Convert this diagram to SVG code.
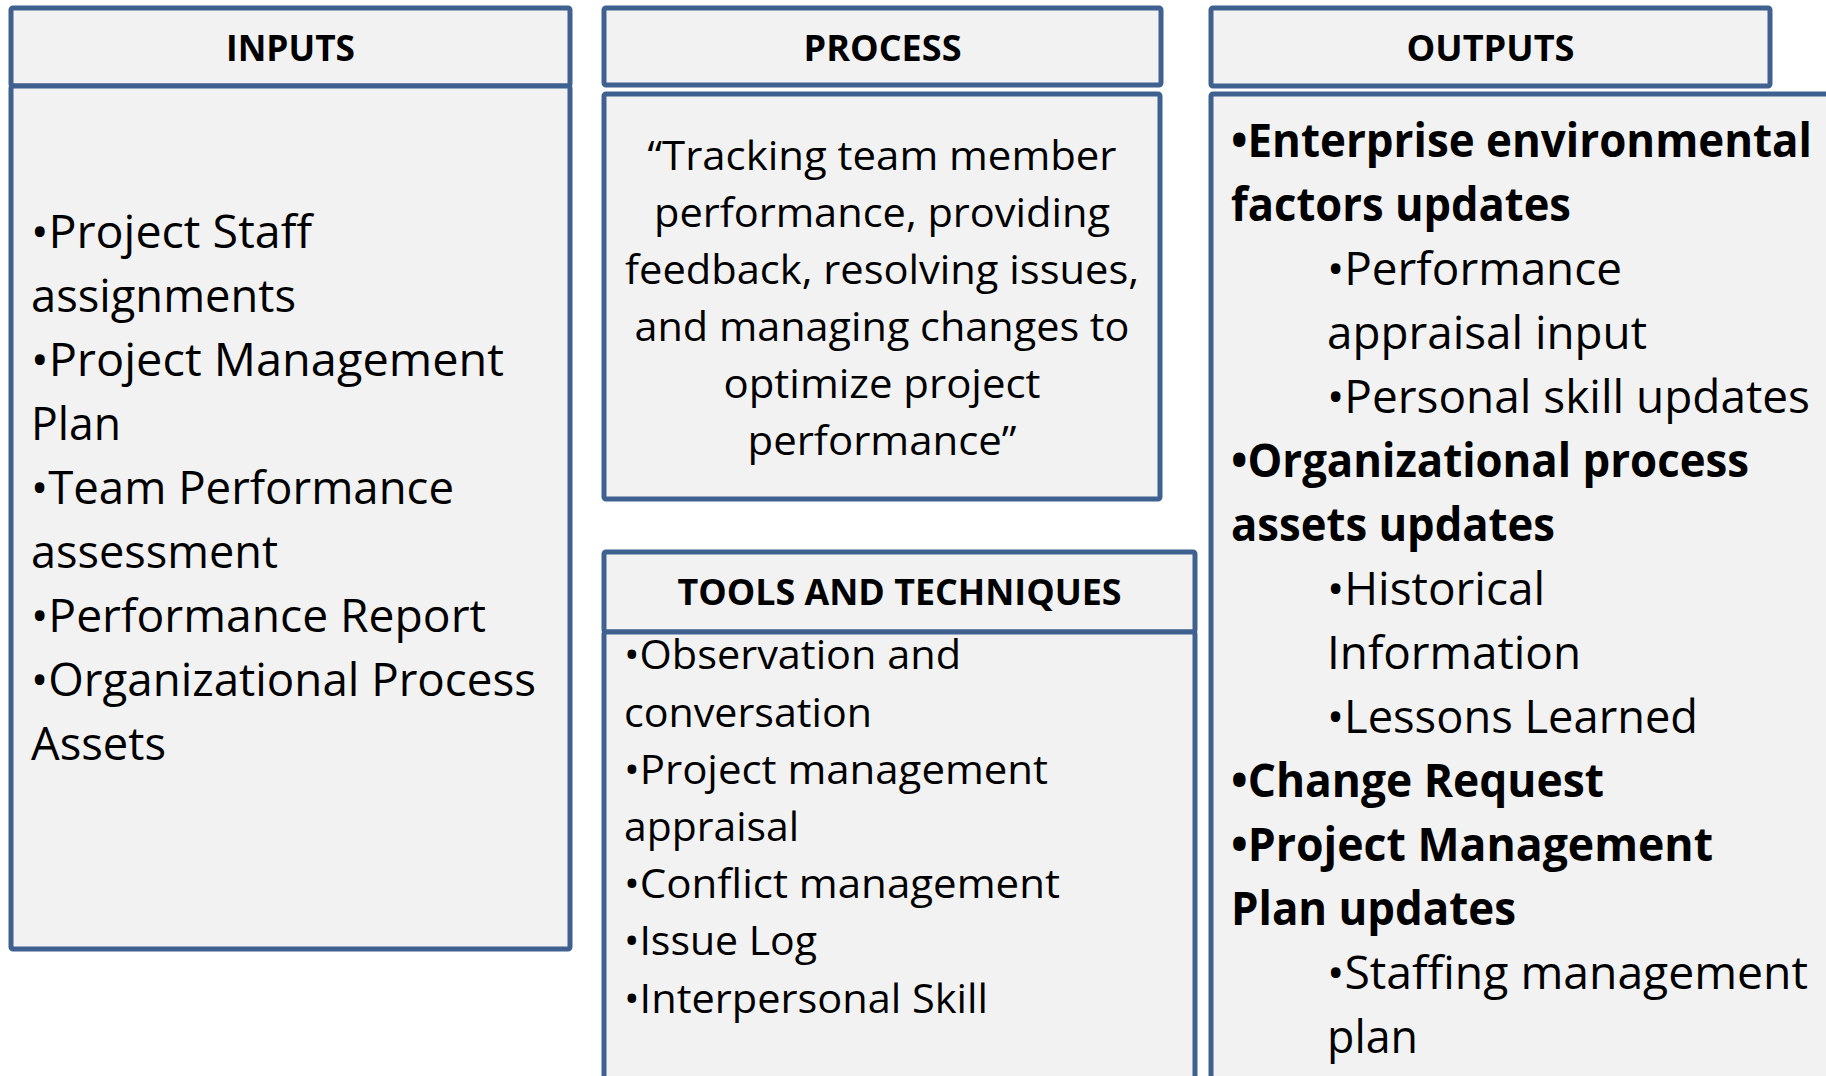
<svg xmlns="http://www.w3.org/2000/svg" width="1826" height="1076" viewBox="0 0 1826 1076">
<style>
.box{fill:#F2F2F2;stroke:#3E6190;stroke-width:5}
.hd{font-family:"Open Sans","Liberation Sans",sans-serif;font-weight:bold;font-size:36px;fill:#000;text-anchor:middle}
.big{font-family:"Open Sans","Liberation Sans",sans-serif;font-size:46px;fill:#000}
.bigb{font-family:"Open Sans","Liberation Sans",sans-serif;font-size:46px;font-weight:bold;fill:#000}
.mid{font-family:"Open Sans","Liberation Sans",sans-serif;font-size:41px;fill:#000}
.ctr{text-anchor:middle}
</style>
<rect width="1826" height="1076" fill="#FFFFFF"/>
<g id="inputs">
<rect class="box" x="11" y="8" width="559" height="78" rx="2"/>
<rect class="box" x="11" y="86" width="559" height="863" rx="2"/>
<text class="hd" x="290.5" y="61" textLength="129" lengthAdjust="spacingAndGlyphs">INPUTS</text>
<text class="big" x="31" y="248" textLength="281" lengthAdjust="spacingAndGlyphs">•Project Staff</text>
<text class="big" x="31" y="312" textLength="265" lengthAdjust="spacingAndGlyphs">assignments</text>
<text class="big" x="31" y="376" textLength="473" lengthAdjust="spacingAndGlyphs">•Project Management</text>
<text class="big" x="31" y="440" textLength="90" lengthAdjust="spacingAndGlyphs">Plan</text>
<text class="big" x="31" y="504" textLength="423" lengthAdjust="spacingAndGlyphs">•Team Performance</text>
<text class="big" x="31" y="568" textLength="247" lengthAdjust="spacingAndGlyphs">assessment</text>
<text class="big" x="31" y="632" textLength="455" lengthAdjust="spacingAndGlyphs">•Performance Report</text>
<text class="big" x="31" y="696" textLength="505" lengthAdjust="spacingAndGlyphs">•Organizational Process</text>
<text class="big" x="31" y="760" textLength="135" lengthAdjust="spacingAndGlyphs">Assets</text>
</g>
<g id="process">
<rect class="box" x="604" y="8" width="557" height="77" rx="2"/>
<rect class="box" x="604" y="94" width="556" height="405" rx="2"/>
<text class="hd" x="882.5" y="61" textLength="158" lengthAdjust="spacingAndGlyphs">PROCESS</text>
<text class="mid ctr" x="882" y="170" textLength="469" lengthAdjust="spacingAndGlyphs">“Tracking team member</text>
<text class="mid ctr" x="882" y="227" textLength="456" lengthAdjust="spacingAndGlyphs">performance, providing</text>
<text class="mid ctr" x="882" y="284" textLength="514" lengthAdjust="spacingAndGlyphs">feedback, resolving issues,</text>
<text class="mid ctr" x="882" y="341" textLength="495" lengthAdjust="spacingAndGlyphs">and managing changes to</text>
<text class="mid ctr" x="882" y="398" textLength="317" lengthAdjust="spacingAndGlyphs">optimize project</text>
<text class="mid ctr" x="882" y="455" textLength="269" lengthAdjust="spacingAndGlyphs">performance”</text>
</g>
<g id="tools">
<rect class="box" x="604" y="552" width="591" height="80" rx="2"/>
<rect class="box" x="604" y="632" width="591" height="600" rx="2"/>
<text class="hd" x="899.5" y="605" textLength="444" lengthAdjust="spacingAndGlyphs">TOOLS AND TECHNIQUES</text>
<text class="mid" x="624" y="669" textLength="337" lengthAdjust="spacingAndGlyphs">•Observation and</text>
<text class="mid" x="624" y="727" textLength="248" lengthAdjust="spacingAndGlyphs">conversation</text>
<text class="mid" x="624" y="784" textLength="424" lengthAdjust="spacingAndGlyphs">•Project management</text>
<text class="mid" x="624" y="841" textLength="175" lengthAdjust="spacingAndGlyphs">appraisal</text>
<text class="mid" x="624" y="898" textLength="436" lengthAdjust="spacingAndGlyphs">•Conflict management</text>
<text class="mid" x="624" y="955" textLength="193" lengthAdjust="spacingAndGlyphs">•Issue Log</text>
<text class="mid" x="624" y="1013" textLength="364" lengthAdjust="spacingAndGlyphs">•Interpersonal Skill</text>
</g>
<g id="outputs">
<rect class="box" x="1211" y="8" width="559" height="78" rx="2"/>
<rect class="box" x="1211" y="94" width="700" height="1100" rx="2"/>
<text class="hd" x="1490.5" y="61" textLength="168" lengthAdjust="spacingAndGlyphs">OUTPUTS</text>
<text class="bigb" x="1231" y="157" textLength="581" lengthAdjust="spacingAndGlyphs">•Enterprise environmental</text>
<text class="bigb" x="1231" y="221" textLength="340" lengthAdjust="spacingAndGlyphs">factors updates</text>
<text class="big" x="1327" y="285" textLength="295" lengthAdjust="spacingAndGlyphs">•Performance</text>
<text class="big" x="1327" y="349" textLength="320" lengthAdjust="spacingAndGlyphs">appraisal input</text>
<text class="big" x="1327" y="413" textLength="483" lengthAdjust="spacingAndGlyphs">•Personal skill updates</text>
<text class="bigb" x="1231" y="477" textLength="518" lengthAdjust="spacingAndGlyphs">•Organizational process</text>
<text class="bigb" x="1231" y="541" textLength="324" lengthAdjust="spacingAndGlyphs">assets updates</text>
<text class="big" x="1327" y="605" textLength="218" lengthAdjust="spacingAndGlyphs">•Historical</text>
<text class="big" x="1327" y="669" textLength="254" lengthAdjust="spacingAndGlyphs">Information</text>
<text class="big" x="1327" y="733" textLength="371" lengthAdjust="spacingAndGlyphs">•Lessons Learned</text>
<text class="bigb" x="1231" y="797" textLength="373" lengthAdjust="spacingAndGlyphs">•Change Request</text>
<text class="bigb" x="1231" y="861" textLength="482" lengthAdjust="spacingAndGlyphs">•Project Management</text>
<text class="bigb" x="1231" y="925" textLength="285" lengthAdjust="spacingAndGlyphs">Plan updates</text>
<text class="big" x="1327" y="989" textLength="481" lengthAdjust="spacingAndGlyphs">•Staffing management</text>
<text class="big" x="1327" y="1053" textLength="91" lengthAdjust="spacingAndGlyphs">plan</text>
</g>
<g id="connectors"></g>
</svg>
